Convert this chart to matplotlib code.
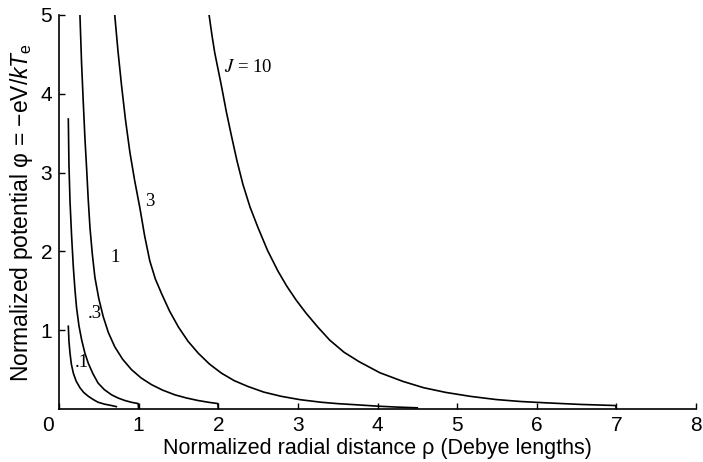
import matplotlib
matplotlib.use("Agg")
import matplotlib.pyplot as plt
import matplotlib.transforms as mtransforms

# ---- data ----
j01_x = [0.117, 0.125, 0.138, 0.155, 0.18, 0.215, 0.263, 0.31, 0.37, 0.43, 0.49, 0.57, 0.66, 0.72]
j01_y = [1.05, 0.86, 0.71, 0.57, 0.455, 0.355, 0.27, 0.21, 0.16, 0.12, 0.086, 0.062, 0.044, 0.03]

j03_x = [0.117, 0.125, 0.138, 0.158, 0.18, 0.20, 0.22, 0.25, 0.285, 0.325, 0.368, 0.425, 0.49,
         0.57, 0.66, 0.745, 0.83, 0.91, 0.994, 1.0]
j03_y = [3.68, 3.10, 2.64, 2.20, 1.80, 1.52, 1.29, 1.06, 0.874, 0.71, 0.58, 0.45, 0.33,
         0.245, 0.18, 0.138, 0.107, 0.085, 0.069, 0.0]

j1_x = [0.263, 0.283, 0.305, 0.325, 0.347, 0.367, 0.389, 0.418, 0.451, 0.50, 0.556, 0.62, 0.70,
        0.80, 0.91, 1.03, 1.16, 1.30, 1.455, 1.60, 1.75, 1.88, 1.995, 2.0]
j1_y = [5.0, 4.40, 3.89, 3.45, 3.05, 2.66, 2.30, 1.97, 1.67, 1.40, 1.17, 0.97, 0.79,
        0.63, 0.50, 0.395, 0.31, 0.24, 0.18, 0.14, 0.107, 0.085, 0.069, 0.0]

j3_x = [0.70, 0.74, 0.786, 0.835, 0.89, 0.95, 1.016, 1.075, 1.14, 1.21, 1.29, 1.39, 1.50, 1.62,
        1.75, 1.89, 2.04, 2.20, 2.37, 2.57, 2.79, 3.03, 3.29, 3.50, 3.71, 4.02, 4.25, 4.5]
j3_y = [5.0, 4.55, 4.10, 3.67, 3.26, 2.90, 2.55, 2.20, 1.88, 1.65, 1.46, 1.24, 1.04, 0.86,
        0.707, 0.57, 0.455, 0.36, 0.287, 0.215, 0.161, 0.118, 0.086, 0.068, 0.055, 0.035, 0.024, 0.015]

j10_x = [1.885, 1.92, 1.956, 2.00, 2.04, 2.10, 2.165, 2.235, 2.31, 2.40, 2.50, 2.62, 2.75, 2.86,
         2.98, 3.10, 3.25, 3.40, 3.58, 3.77, 4.03, 4.32, 4.58, 4.86, 5.17, 5.49, 5.80, 6.12,
         6.55, 6.99, 7.0]
j10_y = [5.0, 4.75, 4.52, 4.30, 4.10, 3.78, 3.47, 3.15, 2.85, 2.56, 2.30, 2.01, 1.75, 1.56,
         1.38, 1.22, 1.04, 0.874, 0.72, 0.60, 0.46, 0.35, 0.27, 0.21, 0.16, 0.12, 0.095, 0.078,
         0.058, 0.044, 0.0]

curve_labels = [".1", ".3", "1", "3", r"$J$ = 10"]
label_x = [0.285, 0.445, 0.70, 1.14, 2.38]
label_y = [0.59, 1.21, 1.92, 2.635, 4.33]

xticks = [0, 1, 2, 3, 4, 5, 6, 7, 8]
xticklabels = ["0", "1", "2", "3", "4", "5", "6", "7", "8"]
yticks = [1, 2, 3, 4, 5]
yticklabels = ["1", "2", "3", "4", "5"]

plt.rcParams['mathtext.fontset'] = 'custom'
plt.rcParams['mathtext.rm'] = 'Liberation Sans'
plt.rcParams['mathtext.it'] = 'Liberation Sans:italic'

fig = plt.figure(figsize=(7.03, 4.62), dpi=100)
ax = fig.add_axes([59/703, 1 - 409/462, (696-59)/703, (409-15)/462])

for xs, ys in [(j01_x, j01_y), (j03_x, j03_y), (j1_x, j1_y), (j3_x, j3_y), (j10_x, j10_y)]:
    ax.plot(xs, ys, color='black', lw=1.2, solid_joinstyle='round')

for t, x, y in zip(curve_labels, label_x, label_y):
    ax.text(x, y, t, family='Liberation Serif', math_fontfamily='stix',
            fontsize=13.5, ha='center', va='center')

ax.set_xlim(0, 8)
ax.set_ylim(0, 5)
ax.spines['top'].set_visible(False)
ax.spines['right'].set_visible(False)
for s in ['left', 'bottom']:
    ax.spines[s].set_linewidth(1.2)

ax.set_xticks(xticks)
ax.set_xticklabels(xticklabels)
ax.set_yticks(yticks)
ax.set_yticklabels(yticklabels)
ax.tick_params(direction='in', length=4, width=1.0, labelsize=15, pad=5)
for lab in ax.get_xticklabels() + ax.get_yticklabels():
    lab.set_family('Liberation Sans')
# shift the corner "0" label to the left like the reference
lab0 = ax.get_xticklabels()[0]
lab0.set_transform(lab0.get_transform() + mtransforms.ScaledTranslation(-0.11, 0, fig.dpi_scale_trans))

ax.set_xlabel("Normalized radial distance ρ (Debye lengths)", family='Liberation Sans',
              fontsize=15.5, labelpad=2)
ax.set_ylabel(r"Normalized potential φ = $-$eV/$\mathit{kT}_\mathrm{e}$", family='Liberation Sans',
              fontsize=16.5, labelpad=4)

fig.savefig("out.png", dpi=100)
